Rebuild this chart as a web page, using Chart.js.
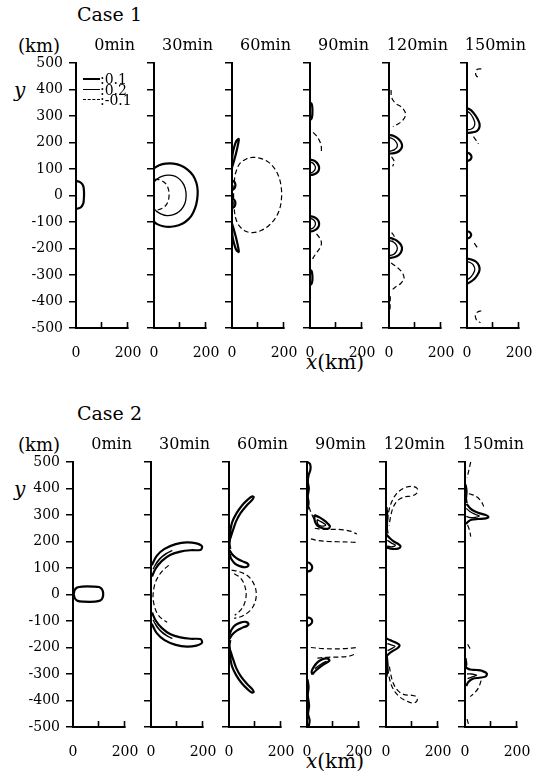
<!DOCTYPE html>
<html><head><meta charset="utf-8">
<script src="https://cdn.jsdelivr.net/npm/chart.js@4.4.1/dist/chart.umd.min.js"></script>
<style>
html,body{margin:0;padding:0;background:#fff;}
body{width:547px;height:775px;position:relative;overflow:hidden;font-family:"DejaVu Serif",serif;color:#000;}
canvas{position:absolute;}
.t{position:absolute;white-space:nowrap;line-height:1;}
.r{transform:translateX(-100%);}
.it{font-style:italic;}
</style></head><body>
<script>
// ---------- tick values / labels ----------
const timeLabels = ['0min','30min','60min','90min','120min','150min'];
const yTicks = [-500,-400,-300,-200,-100,0,100,200,300,400,500];
const xTicks = [0,100,200];
const xTickLabels = [0,200];
const legendLabels = [':0.1', ':0.2', ':-0.1'];

// ---------- Case 1 contours (x km, y km) ----------
const c1t0_p1a = [[0,55],[10,53],[20,47],[27,38],[30,25],[31,5],[30,-15],[28,-30],[21,-42],[11,-48],[0,-50]];

const c1t30_p1a = [[0,103],[20,114],[45,120],[75,120],[105,112],[130,97],[150,76],[163,48],[168,18],[166,-15],[158,-48],[143,-78],[120,-100],[95,-112],[65,-118],[35,-116],[12,-108],[0,-98]];
const c1t30_p2a = [[0,50],[12,62],[30,72],[55,77],[80,73],[100,60],[115,40],[123,12],[122,-18],[113,-42],[97,-60],[75,-72],[50,-76],[28,-70],[10,-60],[0,-50]];
const c1t30_n1 = [[2,62],[25,58],[45,45],[56,22],[58,0],[53,-25],[40,-43],[20,-53],[3,-57]];

const c1t60_p1a = [[0,105],[9,135],[17,165],[23,192],[26,213],[17,206],[9,185],[3,160],[0,135]];
const c1t60_p1b = [[0,-105],[9,-135],[17,-165],[23,-192],[26,-213],[17,-206],[9,-185],[3,-160],[0,-135]];
const c1t60_p1c = [[0,56],[7,53],[12,46],[13,37],[10,28],[4,23],[0,21]];
const c1t60_p1d = [[0,-12],[7,-15],[12,-22],[13,-32],[10,-41],[4,-46],[0,-48]];
const c1t60_n1 = [[12,80],[28,118],[55,138],[80,144],[110,140],[140,126],[165,100],[182,65],[190,25],[190,-15],[182,-55],[165,-88],[140,-115],[110,-133],[80,-140],[52,-135],[28,-115],[14,-85],[8,-45],[6,0],[8,45],[12,80]];

const c1t90_p1a = [[0,350],[6,346],[9,332],[9,305],[6,290],[0,285]];
const c1t90_p1b = [[0,-280],[6,-285],[9,-300],[9,-322],[6,-333],[0,-338]];
const c1t90_p1c = [[0,135],[12,133],[25,125],[33,113],[35,103],[32,92],[24,84],[12,79],[0,78]];
const c1t90_p2c = [[0,126],[10,123],[18,114],[21,105],[18,96],[10,88],[0,85]];
const c1t90_p1d = [[0,-78],[12,-80],[24,-86],[32,-95],[35,-106],[33,-117],[25,-127],[12,-134],[0,-136]];
const c1t90_p2d = [[0,-86],[10,-89],[18,-97],[21,-107],[18,-116],[10,-124],[0,-127]];
const c1t90_n1 = [[12,238],[25,225],[36,208],[43,188],[44,168]];
const c1t90_n2 = [[25,-145],[37,-160],[44,-180],[37,-200],[22,-220],[8,-242]];

const c1t120_p1a = [[0,228],[15,226],[30,218],[43,206],[50,192],[48,178],[38,167],[20,160],[0,158]];
const c1t120_p2a = [[0,218],[12,215],[24,206],[32,193],[30,181],[20,172],[8,168],[0,166]];
const c1t120_p1b = [[0,-160],[15,-163],[30,-170],[43,-182],[50,-197],[47,-212],[37,-225],[20,-233],[0,-236]];
const c1t120_p2b = [[0,-170],[12,-173],[25,-182],[32,-197],[28,-212],[18,-222],[0,-228]];
const c1t120_n1 = [[8,398],[10,370],[25,348],[50,332],[64,308],[55,286],[35,270],[15,260]];
const c1t120_n2 = [[10,146],[20,128],[14,110]];
const c1t120_n3 = [[8,-255],[30,-270],[50,-290],[58,-312],[45,-332],[25,-345],[10,-358]];
const c1t120_n4 = [[10,-140],[20,-155],[14,-170]];
const c1t120_n5 = [[5,-380],[4,-430]];

const c1t150_n1 = [[55,478],[40,476],[33,463],[37,450],[50,445]];
const c1t150_p1a = [[0,330],[15,322],[28,308],[40,290],[48,272],[47,255],[38,243],[20,238],[0,236]];
const c1t150_p2a = [[0,318],[12,310],[22,295],[30,275],[26,258],[15,250],[0,248]];
const c1t150_n2 = [[25,222],[36,207],[44,195]];
const c1t150_p1b = [[0,162],[10,158],[17,148],[15,138],[7,132],[0,132]];
const c1t150_p1c = [[0,-135],[10,-138],[16,-147],[13,-156],[5,-161],[0,-161]];
const c1t150_n3 = [[28,-180],[37,-193],[44,-205]];
const c1t150_p1d = [[0,-238],[18,-242],[35,-250],[46,-265],[48,-282],[40,-300],[28,-315],[12,-327],[0,-333]];
const c1t150_p2d = [[0,-250],[12,-253],[24,-262],[30,-280],[22,-298],[12,-310],[0,-318]];
const c1t150_n4 = [[55,-435],[40,-440],[32,-455],[38,-472],[52,-480]];

// ---------- Case 2 contours ----------
const c2t0_p1a = [[3,0],[6,16],[16,26],[35,30],[80,30],[100,28],[111,20],[116,5],[114,-12],[105,-23],[85,-27],[40,-27],[18,-24],[7,-14],[3,0]];

const c2t30_p1a = [[3,110],[22,146],[52,172],[95,190],[138,197],[175,193],[195,184],[196,176],[190,168],[152,167],[113,162],[75,150],[42,127],[18,98],[4,68]];
const c2t30_p2a = [[8,96],[24,124],[48,148],[80,165],[62,156],[36,136],[16,110],[8,96]];
const c2t30_p1b = [[3,-110],[22,-146],[52,-172],[95,-190],[138,-197],[175,-193],[195,-184],[196,-176],[190,-168],[152,-167],[113,-162],[75,-150],[42,-127],[18,-98],[4,-68]];
const c2t30_p2b = [[8,-96],[24,-124],[48,-148],[80,-165],[62,-156],[36,-136],[16,-110],[8,-96]];
const c2t30_n1 = [[68,110],[45,90],[28,68],[15,40],[8,0],[10,-30],[22,-68],[40,-90],[62,-105]];

const c2t60_p1a = [[0,205],[5,240],[12,272],[28,305],[50,336],[72,358],[88,370],[95,368],[90,358],[68,336],[45,308],[28,278],[16,245],[6,215],[0,205]];
const c2t60_p1b = [[2,168],[12,152],[30,136],[52,125],[70,118],[75,110],[64,103],[44,106],[24,116],[10,132],[2,152]];
const c2t60_p1c = [[2,-168],[12,-152],[30,-136],[52,-125],[70,-118],[75,-110],[64,-103],[44,-106],[24,-116],[10,-132],[2,-152]];
const c2t60_p1d = [[0,-205],[5,-240],[12,-272],[28,-305],[50,-336],[72,-358],[88,-370],[95,-368],[90,-358],[68,-336],[45,-308],[28,-278],[16,-245],[6,-215],[0,-205]];
const c2t60_p1e = [[0,235],[4,215],[2,190],[5,172]];
const c2t60_p1f = [[0,-235],[4,-215],[2,-190],[5,-172]];
const c2t60_n1 = [[10,92],[40,86],[75,68],[98,35],[105,0],[98,-35],[80,-62],[50,-82],[20,-90]];
const c2t60_n2 = [[20,78],[42,65],[58,40],[66,0],[58,-38],[42,-62],[22,-78]];

const c2t90_p1a = [[28,300],[50,290],[72,275],[88,258],[80,248],[60,250],[40,260],[30,278],[28,300]];
const c2t90_p2a = [[38,283],[55,274],[72,262],[56,258],[42,266],[38,283]];
const c2t90_p1b = [[0,122],[12,117],[20,104],[15,91],[0,86]];
const c2t90_p1c = [[0,-86],[15,-91],[20,-102],[12,-114],[0,-119]];
const c2t90_p1d = [[20,-302],[35,-286],[60,-266],[86,-250],[80,-242],[60,-244],[40,-256],[25,-275],[18,-290],[20,-302]];
const c2t90_p2d = [[30,-280],[55,-262],[75,-252]];
const c2t90_p1e = [[2,500],[12,492],[13,470],[6,450],[3,425],[7,400],[3,370],[6,345],[2,320]];
const c2t90_p1f = [[2,-320],[6,-350],[3,-380],[8,-420],[4,-450],[10,-475],[6,-500]];
const c2t90_n1 = [[8,330],[15,310],[24,290],[30,272]];
const c2t90_n2 = [[30,250],[60,246],[100,246],[140,244],[170,238],[192,228]];
const c2t90_n3 = [[15,210],[40,204],[80,200],[120,199],[160,198],[192,196]];
const c2t90_n4 = [[15,-200],[60,-204],[100,-205],[150,-204],[192,-200]];
const c2t90_n5 = [[40,-240],[80,-237],[120,-236],[160,-233],[192,-222]];

const c2t120_p1a = [[0,228],[15,212],[30,200],[48,190],[56,181],[46,173],[25,172],[8,176],[0,180]];
const c2t120_p2a = [[5,205],[20,195],[36,186],[20,180],[5,183]];
const c2t120_p1b = [[0,-165],[15,-172],[35,-180],[52,-191],[45,-202],[30,-211],[15,-220],[3,-232]];
const c2t120_p2b = [[5,-185],[20,-190],[35,-195],[20,-205],[6,-212]];
const c2t120_p1c = [[2,330],[5,290],[3,255],[6,230]];
const c2t120_p1d = [[3,-232],[6,-270],[2,-310]];
const c2t120_n1 = [[5,250],[8,300],[20,345],[40,380],[70,402],[100,408],[120,400],[118,382],[100,372],[70,368],[45,355],[28,330],[18,295],[12,260]];
const c2t120_n2 = [[5,-250],[10,-300],[22,-345],[45,-380],[75,-400],[105,-410],[120,-400],[115,-385],[95,-380],[70,-378],[45,-362],[28,-335],[18,-300],[12,-265]];

const c2t150_p1a = [[2,415],[6,390],[4,360],[7,345]];
const c2t150_p1b = [[6,342],[20,325],[35,315],[57,306],[80,300],[90,293],[80,287],[50,285],[25,282],[12,275],[4,266]];
const c2t150_p2b = [[5,325],[20,312],[40,302],[55,296],[40,291],[20,290],[5,295]];
const c2t150_p1c = [[2,-275],[20,-283],[45,-285],[65,-288],[84,-298],[78,-310],[55,-314],[30,-318],[13,-330],[5,-345]];
const c2t150_p2c = [[8,-300],[25,-300],[45,-305],[25,-312],[10,-318]];
const c2t150_p1d = [[2,-240],[5,-262],[2,-275]];
const c2t150_n1 = [[22,500],[15,470],[8,440]];
const c2t150_n2 = [[15,380],[40,372],[62,352],[72,332]];
const c2t150_n3 = [[10,262],[18,240],[22,218]];
const c2t150_n4 = [[10,-188],[20,-205]];
const c2t150_n5 = [[62,-325],[52,-352],[36,-372],[20,-385]];
const c2t150_n6 = [[8,-470],[15,-495]];

// ---------- grouping per panel (level: 0.1 / 0.2 / -0.1) ----------
const case1Pos1 = [[c1t0_p1a],[c1t30_p1a],[c1t60_p1a,c1t60_p1b,c1t60_p1c,c1t60_p1d],[c1t90_p1a,c1t90_p1b,c1t90_p1c,c1t90_p1d],[c1t120_p1a,c1t120_p1b],[c1t150_p1a,c1t150_p1b,c1t150_p1c,c1t150_p1d]];
const case1Pos2 = [[],[c1t30_p2a],[],[c1t90_p2c,c1t90_p2d],[c1t120_p2a,c1t120_p2b],[c1t150_p2a,c1t150_p2d]];
const case1Neg  = [[],[c1t30_n1],[c1t60_n1],[c1t90_n1,c1t90_n2],[c1t120_n1,c1t120_n2,c1t120_n3,c1t120_n4,c1t120_n5],[c1t150_n1,c1t150_n2,c1t150_n3,c1t150_n4]];

const case2Pos1 = [[c2t0_p1a],[c2t30_p1a,c2t30_p1b],[c2t60_p1a,c2t60_p1b,c2t60_p1c,c2t60_p1d,c2t60_p1e,c2t60_p1f],[c2t90_p1a,c2t90_p1b,c2t90_p1c,c2t90_p1d,c2t90_p1e,c2t90_p1f],[c2t120_p1a,c2t120_p1b,c2t120_p1c,c2t120_p1d],[c2t150_p1a,c2t150_p1b,c2t150_p1c,c2t150_p1d]];
const case2Pos2 = [[],[c2t30_p2a,c2t30_p2b],[],[c2t90_p2a,c2t90_p2d],[c2t120_p2a,c2t120_p2b],[c2t150_p2b,c2t150_p2c]];
const case2Neg  = [[],[c2t30_n1],[c2t60_n1,c2t60_n2],[c2t90_n1,c2t90_n2,c2t90_n3,c2t90_n4,c2t90_n5],[c2t120_n1,c2t120_n2],[c2t150_n1,c2t150_n2,c2t150_n3,c2t150_n4,c2t150_n5,c2t150_n6]];

// ---------- styles & layout ----------
const STYLE = {
  pos1: {width: 2.2, dash: []},
  pos2: {width: 1.3, dash: []},
  neg:  {width: 1.2, dash: [5, 3]}
};
const FONT = "'DejaVu Serif', serif";
const PLOT_W = 52;
const ROWS = [
  {name:'Case 1', top:63,  bottom:328, x0s:[76,154,232,310,389,467], pos1:case1Pos1, pos2:case1Pos2, neg:case1Neg},
  {name:'Case 2', top:462, bottom:727, x0s:[73,151,229,307,386,465], pos1:case2Pos1, pos2:case2Pos2, neg:case2Neg}
];

Chart.defaults.font.family = FONT;
Chart.defaults.color = '#000';

// inward x tick marks (drawn at the x scale's own tick positions)
const inwardXTicks = {
  id: 'inwardXTicks',
  afterDraw(chart) {
    const xs = chart.scales.x, ca = chart.chartArea, ctx = chart.ctx;
    ctx.save();
    ctx.strokeStyle = '#000'; ctx.lineWidth = 1.6;
    xs.ticks.forEach(t => {
      if (t.value === 0) return;
      const px = Math.round(xs.getPixelForValue(t.value)) - 0.5;
      ctx.beginPath(); ctx.moveTo(px, ca.bottom + 1); ctx.lineTo(px, ca.bottom - 6); ctx.stroke();
    });
    ctx.restore();
  }
};

function datasetsFor(curves, style) {
  return curves.map(c => ({
    data: c.map(p => ({x: p[0], y: p[1]})),
    showLine: true, fill: false,
    borderColor: '#000', borderWidth: style.width, borderDash: style.dash,
    pointRadius: 0, pointHoverRadius: 0, tension: 0.35,
    clip: 6
  }));
}

function addText(txt, left, top, size, cls) {
  const d = document.createElement('div');
  d.className = 't ' + (cls || '');
  d.style.left = left + 'px'; d.style.top = top + 'px'; d.style.fontSize = size + 'px';
  d.innerHTML = txt;
  document.body.appendChild(d);
}

function makePanel(row, i) {
  const L = 60, R = 20, T = 10, B = 30;
  const x0 = row.x0s[i];
  const W = L + PLOT_W + R, H = T + (row.bottom - row.top) + B;
  const c = document.createElement('canvas');
  c.width = W; c.height = H;
  c.style.left = (x0 - L) + 'px'; c.style.top = (row.top - T) + 'px';
  c.style.width = W + 'px'; c.style.height = H + 'px';
  document.body.appendChild(c);
  const ds = [].concat(
    datasetsFor(row.pos1[i], STYLE.pos1),
    datasetsFor(row.pos2[i], STYLE.pos2),
    datasetsFor(row.neg[i], STYLE.neg)
  );
  new Chart(c, {
    type: 'scatter',
    data: {datasets: ds},
    plugins: [inwardXTicks],
    options: {
      responsive: false, animation: false, devicePixelRatio: 1,
      layout: {padding: {left: 0, top: T, right: R, bottom: 0}},
      plugins: {legend: {display: false}, tooltip: {enabled: false}},
      events: [],
      scales: {
        x: {
          type: 'linear', min: 0, max: 200,
          afterBuildTicks: s => { s.ticks = xTicks.map(v => ({value: v})); },
          ticks: {
            autoSkip: false, maxRotation: 0, padding: 17,
            font: {family: FONT, size: 14}, color: '#000',
            callback: v => xTickLabels.includes(v) ? String(v) : ''
          },
          grid: {drawOnChartArea: false, drawTicks: false, tickLength: 0, color: '#000', lineWidth: 1.5},
          border: {display: true, color: '#000', width: 2},
          afterFit: s => { s.height = B; s.paddingLeft = 0; s.paddingRight = 0; }
        },
        y: {
          type: 'linear', min: -500, max: 500,
          afterBuildTicks: s => { s.ticks = yTicks.map(v => ({value: v})); },
          ticks: {
            display: i === 0, autoSkip: false, padding: 6,
            font: {family: FONT, size: 14}, color: '#000'
          },
          grid: {drawOnChartArea: false, drawTicks: true, tickLength: 7, color: '#000', lineWidth: 1.5},
          border: {display: true, color: '#000', width: 2},
          afterFit: s => { s.width = L; s.paddingTop = 0; s.paddingBottom = 0; }
        }
      }
    }
  });
  // panel time title, right-aligned just past the x=200 end
  addText(timeLabels[i], x0 + 59, row.top - 26.5, 16, 'r');
}

ROWS.forEach((row, r) => {
  const dy = row.top - ROWS[0].top;
  addText(row.name, 77, 5 + dy, 19);
  addText('(km)', 18, 37 + dy, 18);
  addText('y', 14, 80 + dy, 20, 'it');
  addText('<span class="it">x</span>(km)', 306, 352 + dy, 20);
  row.x0s.forEach((x0, i) => makePanel(row, i));
});

// ---------- legend (Case 1, 0min panel) ----------
(function () {
  const keys = ['pos1', 'pos2', 'neg'];
  const centers = [79, 89.5, 99.5];
  keys.forEach((k, j) => {
    const ln = document.createElement('div');
    ln.style.position = 'absolute';
    ln.style.left = '83px'; ln.style.width = '17px';
    ln.style.top = (centers[j] - STYLE[k].width / 2) + 'px';
    ln.style.height = '0';
    ln.style.borderTop = STYLE[k].width + 'px ' + (k === 'neg' ? 'dashed' : 'solid') + ' #000';
    document.body.appendChild(ln);
    addText(legendLabels[j], 100, centers[j] - 6.8, 14);
  });
})();
</script>
</body></html>
